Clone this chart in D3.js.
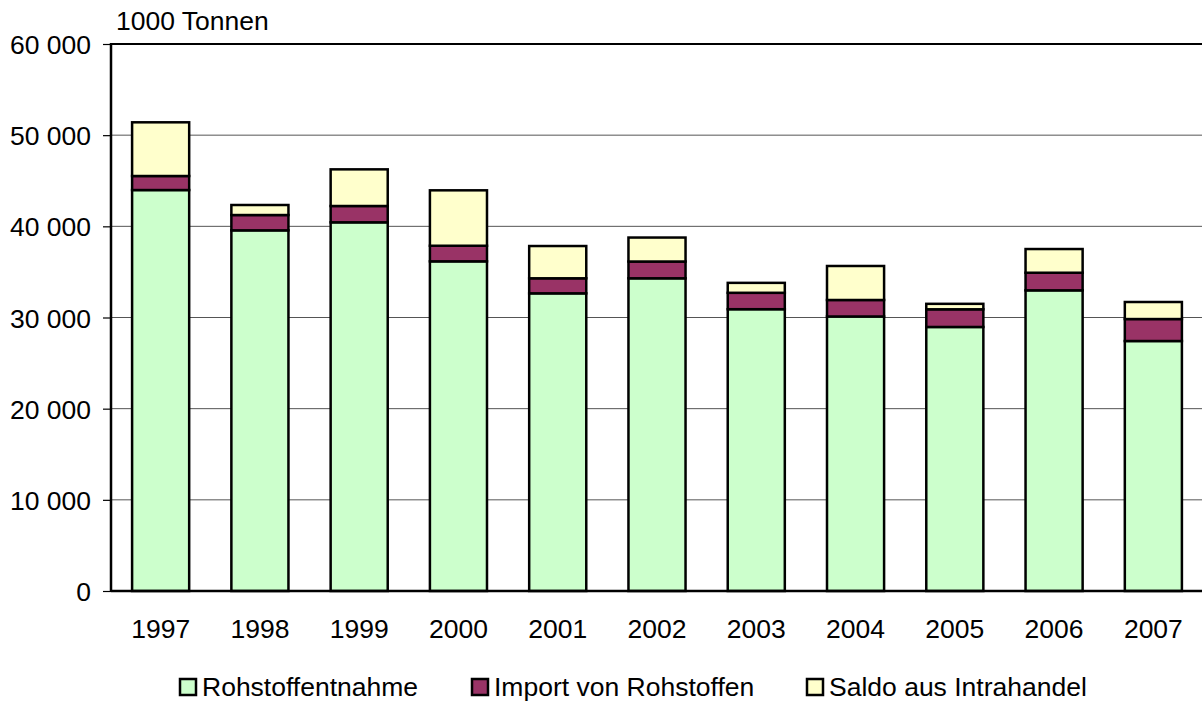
<!DOCTYPE html>
<html>
<head>
<meta charset="utf-8">
<script src="https://cdn.jsdelivr.net/npm/d3@7/dist/d3.min.js"></script>
<style>
  html, body { margin: 0; padding: 0; background: #fff; }
  svg { display: block; font-family: "Liberation Sans", Arial, sans-serif; }
</style>
</head>
<body>
<svg id="chart" width="1202" height="702"></svg>
<script>
const years = ["1997","1998","1999","2000","2001","2002","2003","2004","2005","2006","2007"];
const rohstoffentnahme = [43980, 39560, 40440, 36160, 32650, 34300, 30910, 30110, 28960, 32980, 27420];
const importRohstoffe  = [1540, 1680, 1790, 1710, 1650, 1840, 1800, 1810, 1940, 1930, 2410];
const saldoIntrahandel = [5890, 1100, 4020, 6080, 3540, 2630, 1090, 3730, 600, 2600, 1870];
const seriesNames = ["Rohstoffentnahme", "Import von Rohstoffen", "Saldo aus Intrahandel"];
const seriesColors = ["#CCFFCC", "#993366", "#FFFFCC"];
const yTicks = [0, 10000, 20000, 30000, 40000, 50000, 60000];
const unitLabel = "1000 Tonnen";

(function () {
const svg = d3.select("#chart");
const pLeft = 111, pRight = 1203, pTop = 44, pBottom = 591;
const fontSize = 26.5;

const x = d3.scaleBand().domain(years).range([pLeft, pRight]).paddingInner(0.425).paddingOuter(0.2125);
const y = d3.scaleLinear().domain([0, 60000]).range([pBottom, pTop]);

const rows = years.map((yr, i) => ({
  year: yr,
  s0: rohstoffentnahme[i],
  s1: importRohstoffe[i],
  s2: saldoIntrahandel[i]
}));
const stacked = d3.stack().keys(["s0", "s1", "s2"])(rows);

const fmt = v => d3.format(",")(v).replace(/,/g, " ");

// gridlines
svg.append("g").selectAll("line").data(yTicks.filter(t => t > 0 && t < 60000)).join("line")
  .attr("x1", pLeft).attr("x2", 1202)
  .attr("y1", d => y(d)).attr("y2", d => y(d))
  .attr("stroke", "#555").attr("stroke-width", 1);

// top line
svg.append("line").attr("x1", pLeft).attr("x2", 1202).attr("y1", y(60000)).attr("y2", y(60000))
  .attr("stroke", "#000").attr("stroke-width", 2);

// bars
svg.append("g").selectAll("g").data(stacked).join("g")
  .attr("fill", (d, i) => seriesColors[i])
  .selectAll("rect").data(d => d).join("rect")
  .attr("x", d => x(d.data.year))
  .attr("width", x.bandwidth())
  .attr("y", d => y(d[1]))
  .attr("height", d => y(d[0]) - y(d[1]))
  .attr("stroke", "#000").attr("stroke-width", 2.5);

// y axis
const yAxis = d3.axisLeft(y).tickValues(yTicks).tickFormat(fmt).tickSize(8).tickPadding(12);
const yg = svg.append("g").attr("transform", `translate(${pLeft},0)`).call(yAxis);
yg.select(".domain").remove();
yg.selectAll(".tick line").attr("stroke", "#000").attr("stroke-width", 1.2);
yg.selectAll("text").attr("font-size", fontSize).attr("fill", "#000")
  .attr("font-family", '"Liberation Sans", Arial, sans-serif').attr("dy", "0.36em");

svg.append("line").attr("x1", pLeft).attr("x2", pLeft).attr("y1", pTop - 1).attr("y2", pBottom + 1)
  .attr("stroke", "#000").attr("stroke-width", 2.5);

// x axis
const xAxis = d3.axisBottom(x).tickSize(0).tickPadding(28);
const xg = svg.append("g").attr("transform", `translate(0,${pBottom})`).call(xAxis);
xg.select(".domain").remove();
xg.selectAll("text").attr("font-size", fontSize).attr("fill", "#000")
  .attr("font-family", '"Liberation Sans", Arial, sans-serif');
svg.append("line").attr("x1", pLeft).attr("x2", 1202).attr("y1", pBottom).attr("y2", pBottom)
  .attr("stroke", "#000").attr("stroke-width", 2.5);

// unit label
svg.append("text").attr("x", 116).attr("y", 30).attr("font-size", fontSize).text(unitLabel);

// legend
const legendX = [180, 472, 807];
const lg = svg.append("g").selectAll("g").data(seriesNames).join("g")
  .attr("transform", (d, i) => `translate(${legendX[i]},678)`);
lg.append("rect").attr("x", 0).attr("y", 1).attr("width", 16).attr("height", 16)
  .attr("fill", (d, i) => seriesColors[i]).attr("stroke", "#000").attr("stroke-width", 2.5);
lg.append("text").attr("x", 22).attr("y", 18).attr("font-size", fontSize).text(d => d);
})();
</script>
</body>
</html>
